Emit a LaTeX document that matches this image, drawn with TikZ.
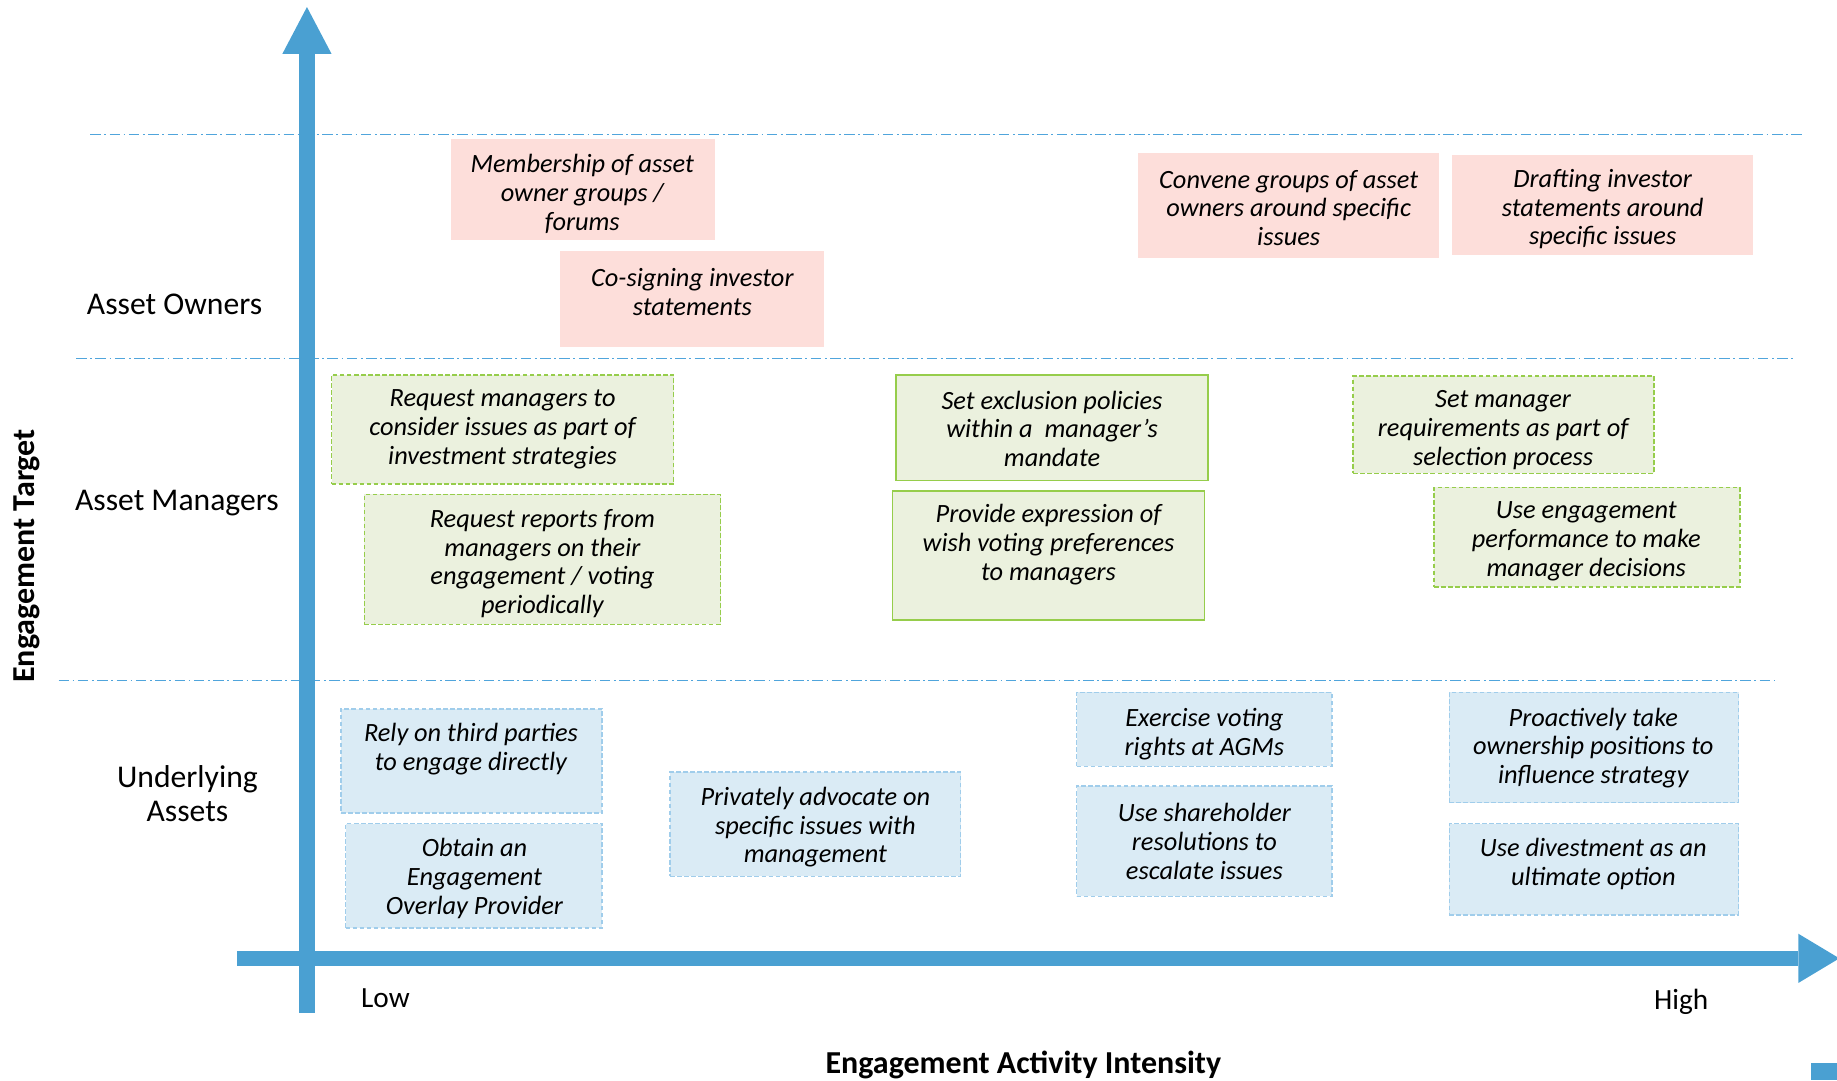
\documentclass[tikz,border=0pt]{standalone}
\usepackage{fontspec}
\setmainfont{Carlito}
\definecolor{axisblue}{RGB}{74,160,210}
\definecolor{sepblue}{RGB}{80,165,220}
\definecolor{pinkfill}{RGB}{253,222,218}
\definecolor{greenfill}{RGB}{235,241,222}
\definecolor{greenline}{RGB}{150,205,75}
\definecolor{bluefill}{RGB}{218,235,245}
\definecolor{blueline}{RGB}{160,205,235}
\begin{document}
\begin{tikzpicture}[x=1pt,y=-1pt,
  sepline/.style={draw=sepblue,line width=1pt,dash pattern=on 9pt off 3pt on 1.5pt off 3pt},
  pinkbox/.style={fill=pinkfill,draw=none,inner sep=0pt},
  greenbox/.style={fill=greenfill,draw=greenline,line width=1.3pt,inner sep=0pt},
  greendash/.style={greenbox,dash pattern=on 4pt off 2pt},
  bluebox/.style={fill=bluefill,draw=blueline,line width=1.2pt,dash pattern=on 4pt off 2pt,inner sep=0pt},
  boxtext/.style={align=center,inner sep=0pt,yshift=-2pt,font=\fontsize{22.5}{24.6}\selectfont\itshape},
  rowlabel/.style={align=center,inner sep=0pt,font=\fontsize{27}{29}\selectfont},
  axislabel/.style={inner sep=0pt,font=\fontsize{27.3}{30}\selectfont\bfseries},
  endlabel/.style={inner sep=0pt,font=\fontsize{25}{28}\selectfont}
]
\useasboundingbox (0,0) rectangle (1568,922);

% separator lines
\coordinate (s1a) at (77,115);  \coordinate (s1b) at (1540,115);
\coordinate (s2a) at (65,306);  \coordinate (s2b) at (1530,306);
\coordinate (s3a) at (50,581);  \coordinate (s3b) at (1515,581);
\draw[sepline] (s1a) -- (s1b);
\draw[sepline] (s2a) -- (s2b);
\draw[sepline] (s3a) -- (s3b);

% axes
\fill[axisblue] (255.5,46) rectangle (268.5,865);
\fill[axisblue] (241,46) -- (262,6) -- (283,46) -- cycle;
\fill[axisblue] (202,811.5) rectangle (1535,824.5);
\fill[axisblue] (1535,797) -- (1570,818) -- (1535,839) -- cycle;
\fill[axisblue] (1546,907) rectangle (1568,922);

% row labels
\node[rowlabel] (lao) at (149,260) {Asset Owners};
\node[rowlabel] (lam) at (151,429.5) {Asset Managers};
\node[rowlabel] (lua) at (160,677.5) {Underlying\\Assets};
\node[axislabel,rotate=90] (ly) at (23,474.5) {Engagement Target};
\node[axislabel] (lx) at (873.5,909) {Engagement Activity Intensity};
\node[endlabel] (llow) at (329,852) {Low};
\node[endlabel] (lhigh) at (1435,855) {High};

% pink boxes
\node[pinkbox,minimum width=225pt,minimum height=86pt] (p1) at (497.5,162) {};
\node[boxtext] (p1t) at (497,163.5) {Membership of asset\\owner groups /\\forums};
\node[pinkbox,minimum width=225pt,minimum height=82pt] (p2) at (590.5,255) {};
\node[boxtext] (p2t) at (591,247) {Co-signing investor\\statements};
\node[pinkbox,minimum width=257pt,minimum height=89pt] (p3) at (1099.5,175.5) {};
\node[boxtext] (p3t) at (1100,175.5) {Convene groups of asset\\owners around specific\\issues};
\node[pinkbox,minimum width=257pt,minimum height=86pt] (p4) at (1367.5,175) {};
\node[boxtext] (p4t) at (1368,176.5) {Drafting investor\\statements around\\specific issues};

% green boxes
\node[greendash,minimum width=292pt,minimum height=93pt] (g1) at (429,366.5) {};
\node[boxtext] (g1t) at (429,364.5) {Request managers to\\consider issues as part of\\investment strategies};
\node[greendash,minimum width=304pt,minimum height=111pt] (g2) at (463,477.5) {};
\node[boxtext] (g2t) at (463,479) {Request reports from\\managers on their\\engagement / voting\\periodically};
\node[greenbox,minimum width=266pt,minimum height=90pt] (g3) at (898,365) {};
\node[boxtext] (g3t) at (898,364) {Set exclusion policies\\within a\ \ manager’s\\mandate};
\node[greenbox,minimum width=266pt,minimum height=110pt] (g4) at (895,474) {};
\node[boxtext] (g4t) at (895,463) {Provide expression of\\wish voting preferences\\to managers};
\node[greendash,minimum width=257pt,minimum height=83pt] (g5) at (1283.5,362.5) {};
\node[boxtext] (g5t) at (1283,365) {Set manager\\requirements as part of\\selection process};
\node[greendash,minimum width=261pt,minimum height=85pt] (g6) at (1354.5,458.5) {};
\node[boxtext] (g6t) at (1354,460) {Use engagement\\performance to make\\manager decisions};

% blue boxes
\node[bluebox,minimum width=223pt,minimum height=89pt] (b1) at (402.5,649.5) {};
\node[boxtext] (b1t) at (402,637.5) {Rely on third parties\\to engage directly};
\node[bluebox,minimum width=219pt,minimum height=89pt] (b2) at (404.5,747.5) {};
\node[boxtext] (b2t) at (405,748) {Obtain an\\Engagement\\Overlay Provider};
\node[bluebox,minimum width=248pt,minimum height=89pt] (b3) at (696,703.5) {};
\node[boxtext] (b3t) at (696,704) {Privately advocate on\\specific issues with\\management};
\node[bluebox,minimum width=218pt,minimum height=63pt] (b4) at (1028,622.5) {};
\node[boxtext] (b4t) at (1028,624.5) {Exercise voting\\rights at AGMs};
\node[bluebox,minimum width=218pt,minimum height=94pt] (b5) at (1028,718) {};
\node[boxtext] (b5t) at (1028,716) {Use shareholder\\resolutions to\\escalate issues};
\node[bluebox,minimum width=247pt,minimum height=94pt] (b6) at (1360.5,638) {};
\node[boxtext] (b6t) at (1360,636.5) {Proactively take\\ownership positions to\\influence strategy};
\node[bluebox,minimum width=247pt,minimum height=78pt] (b7) at (1360.5,742) {};
\node[boxtext] (b7t) at (1360,735.5) {Use divestment as an\\ultimate option};
\end{tikzpicture}
\end{document}
